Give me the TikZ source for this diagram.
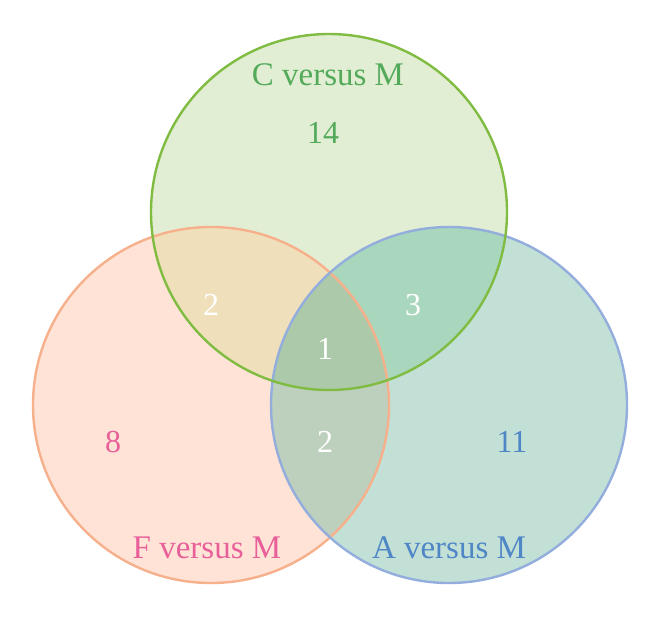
\documentclass[tikz,border=0pt]{standalone}
\usepackage{fontspec}
\setmainfont{Liberation Serif}
\definecolor{gfill}{HTML}{E2EED3}
\definecolor{pfill}{HTML}{FFE3D6}
\definecolor{bfill}{HTML}{C3E0D6}
\definecolor{gpfill}{HTML}{EFE0BB}
\definecolor{gbfill}{HTML}{A8D7BD}
\definecolor{pbfill}{HTML}{BDCFBD}
\definecolor{allfill}{HTML}{ACC9A9}
\definecolor{gline}{HTML}{80BC42}
\definecolor{pline}{HTML}{F7B08C}
\definecolor{bline}{HTML}{93AEDC}
\definecolor{gtext}{HTML}{52AA5A}
\definecolor{ptext}{HTML}{E8609A}
\definecolor{btext}{HTML}{4F86C6}
\tikzset{
  lbl/.style={font=\fontsize{33}{36}\selectfont, inner sep=0pt},
  num/.style={font=\fontsize{32}{36}\selectfont, inner sep=0pt},
}
\begin{document}
\begin{tikzpicture}[x=1pt,y=-1pt]
\useasboundingbox (0,0) rectangle (660,619);
\coordinate (G) at (329,212);
\coordinate (P) at (211,405);
\coordinate (B) at (449,405);
\def\R{178}
% base fills
\fill[gfill] (G) circle (\R);
\fill[pfill] (P) circle (\R);
\fill[bfill] (B) circle (\R);
% pairwise overlaps
\begin{scope}\clip (G) circle (\R); \fill[gpfill] (P) circle (\R); \end{scope}
\begin{scope}\clip (G) circle (\R); \fill[gbfill] (B) circle (\R); \end{scope}
\begin{scope}\clip (P) circle (\R); \fill[pbfill] (B) circle (\R); \end{scope}
\begin{scope}\clip (G) circle (\R); \clip (P) circle (\R); \fill[allfill] (B) circle (\R); \end{scope}
% borders
\draw[pline, line width=2.4pt] (P) circle (\R);
\draw[bline, line width=2.4pt] (B) circle (\R);
\draw[gline, line width=2.4pt] (G) circle (\R);
% labels
\node[lbl, text=gtext] (lc) at (328,75) {C versus M};
\node[lbl, text=ptext] (lf) at (207,548) {F versus M};
\node[lbl, text=btext] (la) at (449,548) {A versus M};
\node[num, text=gtext] (n14) at (323,133) {14};
\node[num, text=ptext] (n8) at (113,442) {8};
\node[num, text=btext] (n11) at (512,442) {11};
\node[num, text=white] (ngp) at (211,305) {2};
\node[num, text=white] (ngb) at (413,305) {3};
\node[num, text=white] (nall) at (325,349) {1};
\node[num, text=white] (npb) at (325,442) {2};
\end{tikzpicture}
\end{document}
